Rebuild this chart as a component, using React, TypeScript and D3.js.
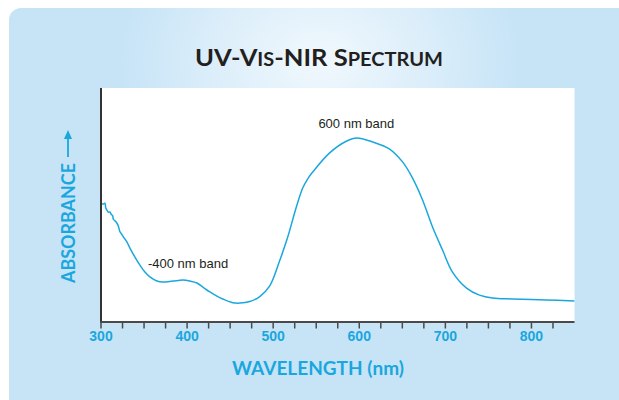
import React from "react";
import * as d3 from "d3";

const wavelengths = [
  300.6, 302.7, 304.6, 305.5, 307.3, 308.5, 310.4, 311.6, 313.6, 314.3, 316.2, 318.2, 320.1, 322.0, 324.0, 325.9,
  330.2, 333.6, 339.4, 345.2, 351.0, 356.8, 365.0, 371.9, 383.5, 395.1, 403.2, 411.4, 418.3, 426.4, 434.6,
  441.5, 453.1, 461.2, 472.8, 484.4, 496.0, 507.6, 515.8, 519.2, 527.0, 534.3, 540.5, 545.9, 565.6, 585.4, 597.0, 615.5,
  635.2, 650.3, 661.9, 673.5, 685.1, 696.7, 708.3, 724.6, 739.6, 754.7, 777.9, 817.4, 849.8,
];
const absorbance = [
  0.605, 0.605, 0.609, 0.585, 0.571, 0.563, 0.564, 0.554, 0.544, 0.527, 0.519, 0.509, 0.492, 0.463, 0.451, 0.437,
  0.410, 0.379, 0.333, 0.292, 0.256, 0.231, 0.210, 0.205, 0.210, 0.215, 0.210, 0.200, 0.179, 0.154, 0.133,
  0.118, 0.099, 0.097, 0.105, 0.130, 0.185, 0.315, 0.420, 0.470, 0.591, 0.687, 0.737, 0.769, 0.867, 0.928, 0.944, 0.923,
  0.887, 0.821, 0.738, 0.626, 0.487, 0.369, 0.256, 0.174, 0.138, 0.123, 0.118, 0.113, 0.108,
];
const tickValues = d3.range(300, 826, 25);
const tickLabels = [300, 400, 500, 600, 700, 800];
const annotations = [
  { text: "-400 nm band", wl: 354.5, abs: 0.277 },
  { text: "600 nm band", wl: 552.5, abs: 0.995 },
];

const W = 619;
const H = 400;
const left = 101;
const right = 574.5;
const top = 88;
const bottom = 322;

const BLUE = "#1aa7de";
const DARK = "#231f20";
const HUM = "Lato, 'Open Sans', 'DejaVu Sans', sans-serif";
const NARROW = "'Liberation Sans Narrow', 'Arial Narrow', 'Liberation Sans', Arial, sans-serif";

export default function App() {
  const x = d3.scaleLinear().domain([300, 850]).range([left, right]);
  const y = d3.scaleLinear().domain([0, 1.2]).range([bottom, top]);
  const pts: [number, number][] = wavelengths.map((w, i) => [w, absorbance[i]]);
  const line = d3
    .line<[number, number]>()
    .x((d) => x(d[0]))
    .y((d) => y(d[1]))
    .curve(d3.curveCatmullRom.alpha(0.5));

  return (
    <svg
      width={W}
      height={H}
      style={{ position: "absolute", left: 0, top: 0, display: "block" }}
    >
      <defs>
        <radialGradient id="glow" gradientUnits="userSpaceOnUse" cx={320} cy={60} r={200}
          gradientTransform="translate(320 60) scale(1 0.75) translate(-320 -60)">
          <stop offset="0" stopColor="#ffffff" stopOpacity={0.75} />
          <stop offset="0.5" stopColor="#ffffff" stopOpacity={0.4} />
          <stop offset="1" stopColor="#ffffff" stopOpacity={0} />
        </radialGradient>
      </defs>
      <rect x={0} y={0} width={W} height={H} fill="#ffffff" />
      <rect x={9} y={8} width={625} height={420} rx={12} ry={12} fill="#c7e4f7" />
      <rect x={9} y={8} width={625} height={420} rx={12} ry={12} fill="url(#glow)" />

      <text
        x={319}
        y={66}
        textAnchor="middle"
        fontFamily={HUM}
        fontWeight={700}
        fill={DARK}
        fontSize={23}
        textLength={248}
        lengthAdjust="spacingAndGlyphs"
      >
        <tspan>UV-V</tspan>
        <tspan fontSize={18}>IS</tspan>
        <tspan>-NIR S</tspan>
        <tspan fontSize={18}>PECTRUM</tspan>
      </text>

      <rect x={left} y={top} width={right - left} height={bottom - top} fill="#ffffff" />

      <path d={line(pts) ?? ""} fill="none" stroke={BLUE} strokeWidth={1.5} strokeLinejoin="round" />

      {annotations.map((a) => (
        <text
          key={a.text}
          x={x(a.wl)}
          y={y(a.abs)}
          fontFamily="'Liberation Sans', Arial, Helvetica, sans-serif"
          fontSize={13}
          fill={DARK}
        >
          {a.text}
        </text>
      ))}

      <line x1={left} x2={left} y1={top} y2={bottom + 1} stroke="#333" strokeWidth={2} />
      <line x1={left - 1} x2={right} y1={bottom} y2={bottom} stroke="#4a4a4a" strokeWidth={2} />
      {tickValues.map((t) => (
        <line key={t} x1={x(t)} x2={x(t)} y1={bottom} y2={bottom + 6.5} stroke="#4a4a4a" strokeWidth={1.5} />
      ))}
      {tickLabels.map((t) => (
        <text
          key={t}
          x={x(t)}
          y={341}
          textAnchor="middle"
          fontFamily={NARROW}
          fontWeight={700}
          fontSize={14}
          fill={BLUE}
        >
          {t}
        </text>
      ))}

      <text
        x={318}
        y={375}
        textAnchor="middle"
        fontFamily={HUM}
        fontWeight={700}
        fontSize={18}
        fill={BLUE}
        textLength={172}
        lengthAdjust="spacingAndGlyphs"
      >
        WAVELENGTH (nm)
      </text>

      <g transform="translate(75 283) rotate(-90)">
        <text
          x={0}
          y={0}
          fontFamily={HUM}
          fontWeight={700}
          fontSize={18}
          fill={BLUE}
          textLength={120}
          lengthAdjust="spacingAndGlyphs"
        >
          ABSORBANCE
        </text>
        <line x1={126} x2={148} y1={-7} y2={-7} stroke={BLUE} strokeWidth={1.8} />
        <path d="M 153 -7 L 144 -11 L 144 -3 Z" fill={BLUE} />
      </g>
    </svg>
  );
}
